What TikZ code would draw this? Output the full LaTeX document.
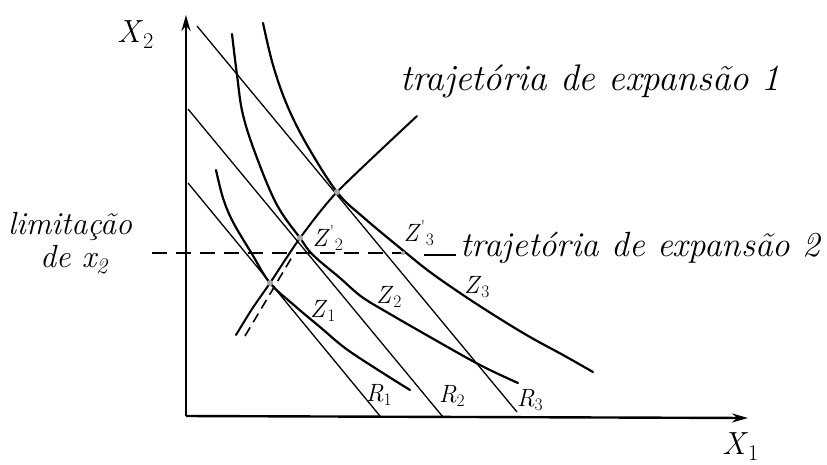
\documentclass[tikz,border=0pt]{standalone}
\usepackage{fontspec}
\usetikzlibrary{arrows.meta}
\newcommand{\lsub}[2]{\textit{#1}\textsubscript{#2}}
\newcommand{\lsubp}[2]{\textit{#1}\textsuperscript{\textquotesingle}\textsubscript{#2}}
\begin{document}
\begin{tikzpicture}[x=1pt,y=-1pt,
  axis/.style={line width=2.4pt, -{Stealth[length=16pt,width=9pt]}},
  budget/.style={line width=1.3pt},
  isoq/.style={line width=2.2pt, line cap=round},
  exppath/.style={line width=2pt, line cap=round},
  limdash/.style={line width=1.8pt, dash pattern=on 15pt off 9pt},
  lbl/.style={inner sep=0pt, font=\fontsize{25}{27}\selectfont},
  axlbl/.style={inner sep=0pt, anchor=base west, font=\fontsize{32}{34}\selectfont},
  txt/.style={inner sep=0pt, font=\fontsize{35}{40}\selectfont\itshape, anchor=base west},
  tang/.style={circle, fill=gray!70, inner sep=0pt, minimum size=6pt}]
\useasboundingbox (0,0) rectangle (827,464);
% axes
\coordinate (O) at (186,416);
\coordinate (xend) at (748,418);
\coordinate (yend) at (186,15);
\draw[axis] (O) -- (xend);
\draw[axis] (O) -- (yend);
\node[axlbl] (X2) at (117,42) {\lsub{X}{2}};
\node[axlbl] (X1) at (722,454) {\lsub{X}{1}};
% budget lines
\coordinate (r1a) at (188,183); \coordinate (r1b) at (380,416);
\coordinate (r2a) at (188,109); \coordinate (r2b) at (443,417);
\coordinate (r3a) at (197,26);  \coordinate (r3b) at (517,412);
\draw[budget] (r1a) -- (r1b);
\draw[budget] (r2a) -- (r2b);
\draw[budget] (r3a) -- (r3b);
\node[lbl] (R1) at (379,395) {\lsub{R}{1}};
\node[lbl] (R2) at (452,396) {\lsub{R}{2}};
\node[lbl] (R3) at (530,400) {\lsub{R}{3}};
% isoquants
\draw[isoq] plot[smooth, tension=0.6] coordinates {(216,170) (223,198) (233,222) (252,254) (270,283) (295,306) (320,327) (345,348) (375,368) (410,390)};
\draw[isoq] plot[smooth, tension=0.6] coordinates {(232,34) (237,75) (243,115) (257,158) (277,205) (300,238) (313,255) (340,278) (362,297) (390,314) (430,337) (480,365) (518,383)};
\draw[isoq] plot[smooth, tension=0.6] coordinates {(263,23) (273,65) (287,105) (307,145) (337,192) (363,217) (405,252) (430,272) (463,295) (497,317) (530,337) (563,355) (593,372)};
\node[lbl] (Z1) at (323,311) {\lsub{Z}{1}};
\node[lbl] (Z2) at (389,297) {\lsub{Z}{2}};
\node[lbl] (Z3) at (477,287) {\lsub{Z}{3}};
\node[lbl] (Z2p) at (328,238) {\lsubp{Z}{2}};
\node[lbl] (Z3p) at (419,233) {\lsubp{Z}{3}};
% expansion path 1
\coordinate (T1) at (270,283);
\coordinate (T2) at (300,238);
\coordinate (T3) at (337,192);
\coordinate (E1end) at (417,116);
\draw[exppath] plot[smooth, tension=0.4] coordinates {(236,335) (252,309) (T1) (T2) (T3) (E1end)};
% limitation of x2 and expansion path 2
\coordinate (L0) at (152,253);
\coordinate (L1) at (403,253);
\draw[limdash] (L0) -- (L1);
\coordinate (E2a) at (245,336);
\coordinate (E2b) at (292,257);
\draw[limdash, line width=1.6pt, dash pattern=on 10pt off 6pt] (E2a) -- (E2b);
\coordinate (U0) at (424,255);
\coordinate (U1) at (456,255);
\draw[line width=1.6pt] (U0) -- (U1);
\node[tang] at (T1) {};
\node[tang] at (T2) {};
\node[tang] at (T3) {};
\node[circle, fill=gray!70, inner sep=0pt, minimum size=4pt] at (L1) {};
% texts
\node[txt, font=\fontsize{37}{40}\selectfont\itshape] (t1) at (400,90) {trajetória de expansão 1};
\node[txt] (t2) at (460,256) {trajetória de expansão 2};
\node[inner sep=0pt, anchor=base west, font=\fontsize{32}{36}\selectfont\itshape] (lim) at (8,234) {limitação};
\node[inner sep=0pt, anchor=base west, font=\fontsize{32}{36}\selectfont\itshape] (dex) at (40,267) {de \lsub{x}{2}};
\end{tikzpicture}
\end{document}
